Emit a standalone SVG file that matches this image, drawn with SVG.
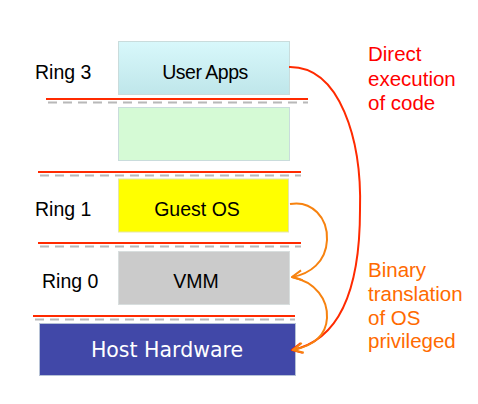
<svg xmlns="http://www.w3.org/2000/svg" width="478" height="404" viewBox="0 0 478 404">
<defs>
<linearGradient id="gCyan" x1="0" y1="0" x2="0" y2="1"><stop offset="0" stop-color="#d8f8fb"/><stop offset="1" stop-color="#bfe6ea"/></linearGradient>
<marker id="aRed" viewBox="0 0 12 12" refX="11" refY="6" markerWidth="12" markerHeight="12" markerUnits="userSpaceOnUse" orient="auto"><path d="M1,1 L11,6 L1,11" fill="none" stroke="#ff2a00" stroke-width="2"/></marker>
<marker id="aOr" viewBox="0 0 12 12" refX="11" refY="6" markerWidth="12" markerHeight="12" markerUnits="userSpaceOnUse" orient="auto"><path d="M1,1 L11,6 L1,11" fill="none" stroke="#f7820f" stroke-width="2"/></marker>
</defs>
<style>
text{font-family:"Liberation Sans",Arial,sans-serif;}
.lbl{font-size:19.5px;fill:#000;}
.ttl{font-size:19.5px;fill:#000;text-anchor:middle;}
.box{stroke:#c9dcdc;stroke-width:1;}
.sep{stroke:#ff2a00;stroke-width:2;}
.sh{stroke:#b8b8b8;stroke-width:2;stroke-dasharray:9,6;}
.red{font-size:20.5px;fill:#ff0000;}
.org{font-size:20.5px;fill:#ff6a00;}
</style>
<rect width="478" height="404" fill="#fff"/>
<g id="separators">
<line class="sh" x1="48" y1="102.5" x2="308" y2="102.5"/><line class="sep" x1="46" y1="99" x2="308" y2="99"/>
<line class="sh" x1="40" y1="175.5" x2="301" y2="175.5"/><line class="sep" x1="38" y1="172" x2="301" y2="172"/>
<line class="sh" x1="40" y1="246.5" x2="301" y2="246.5"/><line class="sep" x1="38" y1="243" x2="301" y2="243"/>
<line class="sh" x1="35" y1="319.5" x2="295" y2="319.5"/><line class="sep" x1="33" y1="316" x2="295" y2="316"/>
</g>
<g id="user-apps">
<rect class="box" x="118.5" y="41.5" width="171" height="53" fill="url(#gCyan)"/>
<text class="ttl" x="205" y="79" letter-spacing="-0.5">User Apps</text>
</g>
<g id="ring3-label"><text class="lbl" x="35" y="79">Ring 3</text></g>
<g id="ring2-box">
<rect class="box" x="118.5" y="107.5" width="171" height="53" fill="#d5fad5"/>
</g>
<g id="guest-os">
<rect x="118.5" y="179" width="170" height="53" fill="#ffff00" stroke="#e5e5aa"/>
<text class="ttl" x="197" y="216">Guest OS</text>
</g>
<g id="ring1-label"><text class="lbl" x="35" y="216">Ring 1</text></g>
<g id="vmm">
<rect x="118.5" y="251.5" width="171" height="53" fill="#cbcbcb" stroke="#d8dede"/>
<text class="ttl" x="196" y="288">VMM</text>
</g>
<g id="ring0-label"><text class="lbl" x="42" y="288">Ring 0</text></g>
<g id="host-hardware">
<rect x="39.5" y="323.5" width="256" height="52" fill="#4148a8" stroke="#b6c2d6"/>
<text x="167" y="357" fill="#fff" font-size="20.5" text-anchor="middle" style="font-family:'DejaVu Sans',Verdana,sans-serif">Host Hardware</text>
</g>
<g id="direct-label">
<text class="red" x="368" y="61">Direct</text>
<text class="red" x="368" y="85.5">execution</text>
<text class="red" x="368" y="110">of code</text>
</g>
<g id="binary-label">
<text class="org" x="368" y="277">Binary</text>
<text class="org" x="368" y="301">translation</text>
<text class="org" x="368" y="325">of OS</text>
<text class="org" x="368" y="348">privileged</text>
</g>
<g id="connectors" fill="none">
<path d="M289,67 C340,66 362,140 360,210 C360,290 340,340 292,350" stroke="#ff2a00" stroke-width="2" marker-end="url(#aRed)"/>
<path d="M290,204 C312,200 328,218 327,240 C326,262 310,274 292,277" stroke="#f7820f" stroke-width="2" marker-end="url(#aOr)"/>
<path d="M292,277 C316,282 328,300 327,318 C326,336 312,346 293,350" stroke="#f7820f" stroke-width="2" marker-end="url(#aOr)"/>
</g>
</svg>
